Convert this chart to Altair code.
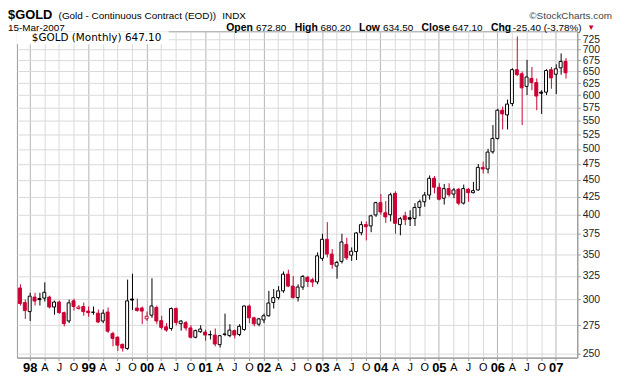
import json
import altair as alt
import numpy as np
import pandas as pd

# ---------------- data (monthly candles, Nov 1997 .. Mar 2007) ----------------
months = pd.date_range("1997-11-01", "2007-03-01", freq="MS").strftime("%Y-%m").tolist()

opens = [312, 297,
         288, 302.5, 301, 301.5, 302.5, 292.5, 297.5, 287, 279, 298.7, 291, 293,
         288.5, 287.5, 286.5, 279, 287.6, 267.4, 264, 257.7, 254.2, 300.5, 291.5, 291.5,
         281, 284.5, 292, 279.3, 273.5, 272, 291, 276.5, 277.4, 272.5, 264, 269,
         268.7, 266.5, 266, 257.5, 267, 265.5, 270, 266.5, 271, 293.5, 282, 276,
         280, 284, 297, 302, 309, 327, 314, 302, 313, 323.5, 320.8, 318.5,
         345, 368, 350, 336, 341.5, 361.7, 348.7, 353, 376.3, 386.8, 385, 399.7,
         416.7, 402.6, 400, 430, 386.8, 398.5, 396, 395, 410, 418, 427.6, 452.6,
         439, 423, 437, 429, 436, 416, 436, 431, 435, 469.6, 467, 495,
         518, 570, 561, 583, 654, 645, 618, 635, 626, 606, 606, 654,
         644, 658, 672.8]
highs = [316, 300,
         307, 307, 307, 318, 304, 299, 299, 288, 300, 301, 294.5, 297,
         293, 293, 290, 290, 292, 269, 265, 258.5, 321, 327.5, 301, 293,
         288, 322.5, 294, 284, 277, 292, 292, 280, 279, 275, 271, 275,
         271, 270, 272, 266, 286, 276, 271, 276, 294, 295, 283, 282,
         286, 309, 311, 314, 330, 332, 325, 316, 326, 325, 323, 352,
         375, 390, 356, 342, 375, 370, 358, 377, 391, 391, 400, 418,
         429, 419, 431, 433, 397, 404, 406, 416, 421, 432, 457, 456,
         445, 444, 445, 438, 438, 443, 438, 447, 475, 479, 500, 542,
         573, 577, 591, 657, 732, 650, 676, 660, 635, 610, 655, 660,
         666, 691, 680.2]
lows = [294, 281,
        279, 294, 294, 298, 291, 285, 286, 274, 277, 289, 290, 284,
        283, 285, 277, 277, 268, 256, 252, 251.5, 253, 289.5, 288, 276,
        279, 282, 276, 271, 269, 270, 275, 270, 270, 263, 263, 268,
        261, 262, 256, 255, 265, 264, 263, 265, 270, 277, 274, 274,
        277, 283, 291, 300, 307, 313, 301, 298, 310, 313, 313, 316,
        342, 346, 333, 322, 339, 343, 342, 343, 373, 366.6, 377, 397,
        400, 389, 391, 375, 373, 386, 385, 385, 398, 411, 421, 430,
        420, 414, 425, 423, 413, 414, 418, 430, 434, 460, 460, 492,
        516, 534, 534, 578, 640, 542, 600, 610, 570, 563, 600, 613,
        602, 643, 634.5]
closes = [296, 289,
          303.5, 298.5, 300, 307.5, 292.5, 297.5, 287, 276.5, 296.7, 293, 292.5, 288,
          287, 287.3, 278, 286.5, 269.5, 263, 257, 254.5, 298.7, 299.5, 289, 288.5,
          283.5, 293.6, 279, 273, 270.5, 291, 277.5, 278.9, 272.5, 264, 270, 271.5,
          266, 266.2, 258, 265.4, 266.5, 270.5, 266, 274, 293.5, 282, 276.3, 281,
          284, 296.5, 302, 309, 327, 314, 302, 313, 324.5, 319, 318.3, 348,
          368, 350, 338, 340.3, 364.7, 345.5, 353.4, 376, 386.8, 384, 398.5, 416.7,
          403.8, 397, 428, 388.5, 394.6, 393.3, 394, 410, 418, 427.6, 452.6, 439,
          421.5, 437, 428, 435, 416, 437, 431, 434, 469.6, 467, 494.6, 518,
          570, 563, 582, 654, 643, 615, 638, 626, 598, 604, 652, 636,
          656, 672.5, 647.1]

quarter_labels = ["98", "A", "J", "O", "99", "A", "J", "O", "00", "A", "J", "O",
                  "01", "A", "J", "O", "02", "A", "J", "O", "03", "A", "J", "O",
                  "04", "A", "J", "O", "05", "A", "J", "O", "06", "A", "J", "O", "07"]
y_ticks = [250, 275, 300, 325, 350, 375, 400, 425, 450, 475, 500, 525,
           550, 575, 600, 625, 650, 675, 700, 725]

RED = "#cc0033"
BLACK = "#000000"

df = pd.DataFrame({"month": months, "open": opens, "high": highs,
                   "low": lows, "close": closes})
df["t"] = np.arange(len(df)) - 2          # 0 = Jan 1998
prev = df["close"].shift(1).fillna(np.inf)
df["col"] = np.where(df["close"] < prev, RED, BLACK)
df["fillc"] = np.where(df["close"] > df["open"], "#ffffff", df["col"])

W, H = 565, 329
FONT = "Liberation Sans"

x_axis = alt.Axis(
    values=list(range(0, 3 * len(quarter_labels), 3)),
    labelExpr=json.dumps(quarter_labels) + "[round(datum.value / 3)]",
    labelFlush=False, labelOverlap=False,
    labelFont=FONT, labelColor="#000000", labelPadding=1,
    labelFontSize={"condition": {"test": "datum.value % 12 === 0", "value": 13}, "value": 11},
    labelFontWeight={"condition": {"test": "datum.value % 12 === 0", "value": "bold"}, "value": "normal"},
    grid=True,
    gridColor={"condition": {"test": "datum.value % 12 === 0", "value": "#b4b4b4"}, "value": "#dadada"},
    gridWidth=1, tickSize=3, tickColor="#999999", domainColor="#999999", title=None,
)
y_axis = alt.Axis(
    orient="right", values=y_ticks, labelFlush=False, labelOverlap=False,
    labelFont=FONT, labelFontSize=10.5, labelColor="#222222", labelPadding=2,
    grid=True, gridColor="#dadada", tickSize=3, tickColor="#999999",
    domainColor="#999999", title=None,
)
x_scale = alt.Scale(domain=[-1.6, 111.4], nice=False, zero=False)
y_scale = alt.Scale(type="log", domain=[246.4, 744.8], nice=False)


def X(field):
    return alt.X(field, type="quantitative", scale=x_scale, axis=x_axis)


def Y(field):
    return alt.Y(field, type="quantitative", scale=y_scale, axis=y_axis)


base = alt.Chart(df)
wicks = base.mark_rule(strokeWidth=1, clip=True, xOffset=0.5).encode(
    x=X("t"), y=Y("low"), y2="high:Q",
    color=alt.Color("col:N", scale=None),
)
bodies = base.mark_bar(size=3, strokeWidth=1, clip=True, orient="vertical").encode(
    x=X("t"), y=Y("open"), y2="close:Q",
    fill=alt.Fill("fillc:N", scale=None),
    stroke=alt.Stroke("col:N", scale=None),
)

one = pd.DataFrame({"k": [0]})
last_o, last_h, last_l, last_c = opens[-1], highs[-1], lows[-1], closes[-1]
chg = last_c - closes[-2]
pct = chg / closes[-2] * 100


def txt(s, x, y, size=11, weight="normal", color="#000000", align="left",
        baseline="alphabetic", font=FONT):
    return alt.Chart(one).mark_text(
        text=s, align=align, baseline=baseline, font=font, fontSize=size,
        fontWeight=weight, color=color,
    ).encode(x=alt.value(x), y=alt.value(y))


legend_bg = alt.Chart(one).mark_rect(color="white").encode(
    x=alt.value(0), x2=alt.value(153), y=alt.value(0), y2=alt.value(13)
)

L1 = -12      # baseline of first header line (view coords)
L2 = -0.5     # baseline of second header line
texts = [
    txt("$GOLD", -9, -22, size=13, weight="bold", baseline="top"),
    txt("(Gold - Continuous Contract (EOD))", 42, L1, size=10),
    txt("INDX", 207, L1, size=10),
    txt("\u00a9StockCharts.com", 600, L1, size=10, color="#444444", align="right"),
    txt("15-Mar-2007", -9, L2, size=10),
    txt("Open", 211, L2, size=10.5, weight="bold"),
    txt(f"{last_o:.2f}", 241, L2, size=10),
    txt("High", 280, L2, size=10.5, weight="bold"),
    txt(f"{last_h:.2f}", 306, L2, size=10),
    txt("Low", 345, L2, size=10.5, weight="bold"),
    txt(f"{last_l:.2f}", 369, L2, size=10),
    txt("Close", 408, L2, size=10.5, weight="bold"),
    txt(f"{last_c:.2f}", 439, L2, size=10),
    txt("Chg", 478, L2, size=10.5, weight="bold"),
    txt(f"{chg:.2f} ({pct:.2f}%)", 500, L2, size=10),
    txt("\u25bc", 575, -1.5, size=8, color=RED),
    txt(f"$GOLD (Monthly) {last_c:.2f}", 15, 7, size=10.5, baseline="middle",
        font="DejaVu Sans"),
]

chart = alt.layer(wicks, bodies, legend_bg, *texts).properties(
    width=W, height=H, padding=0,
).configure_view(stroke="#999999", strokeWidth=1)

chart.save("out.html", embed_options={"renderer": "svg", "actions": False})
